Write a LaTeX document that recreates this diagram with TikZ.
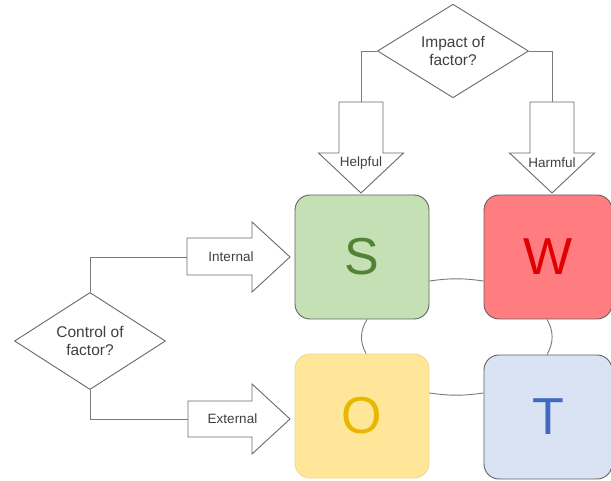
\documentclass[tikz,border=0pt]{standalone}
\usepackage{fontspec}
\setmainfont{Liberation Sans}
\usetikzlibrary{shapes.geometric}
\definecolor{lineg}{HTML}{7A7A7A}
\definecolor{arrowg}{HTML}{6A6A6A}
\definecolor{txtg}{HTML}{404040}
\definecolor{sfill}{HTML}{C5E0B4}
\definecolor{sfg}{HTML}{548235}
\definecolor{wfill}{HTML}{FF7C80}
\definecolor{wfg}{HTML}{E00000}
\definecolor{ofill}{HTML}{FFE699}
\definecolor{ofg}{HTML}{E8B800}
\definecolor{ostroke}{HTML}{F0D88C}
\definecolor{tfill}{HTML}{DAE3F3}
\definecolor{tfg}{HTML}{4069BF}
\definecolor{boxstroke}{HTML}{626262}
\begin{document}
\begin{tikzpicture}[x=1pt,y=1pt,
  conn/.style={draw=lineg,line width=0.9pt},
  decision/.style={diamond,draw=arrowg,line width=0.9pt,fill=white,inner sep=0pt,
    align=center,text=txtg,font=\fontsize{15.5}{18.5}\selectfont},
  fatarrow/.style={draw=arrowg,line width=0.9pt,fill=white},
  arrowlabel/.style={text=txtg,font=\fontsize{13.5}{16}\selectfont,inner sep=0pt},
  swotbox/.style={rectangle,rounded corners=15pt,line width=0.9pt,inner sep=0pt,
    font=\fontsize{52}{52}\selectfont},
  link/.style={draw=lineg,line width=0.9pt}]
\clip (0,0) rectangle (611,480);
\fill[white] (0,0) rectangle (611,480);

% SWOT boxes
\node[swotbox,draw=boxstroke,fill=sfill,text=sfg,minimum width=134pt,minimum height=124pt] (S) at (362,223) {S};
\node[swotbox,draw=boxstroke,fill=wfill,text=wfg,minimum width=128pt,minimum height=124pt] (W) at (548,223) {W};
\node[swotbox,draw=ostroke,fill=ofill,text=ofg,minimum width=134pt,minimum height=124pt] (O) at (362,64) {O};
\node[swotbox,draw=boxstroke,fill=tfill,text=tfg,minimum width=128pt,minimum height=124pt] (T) at (548,63) {T};

% links between boxes
\draw[link] ([yshift=-24pt]S.east) to[bend left=8] ([yshift=-24pt]W.west);
\draw[link] ([xshift=5pt]S.south) to[bend right=30] ([xshift=4pt]O.north);
\draw[link] ([xshift=-1pt]W.south) to[bend left=30] ([xshift=-1pt]T.north);
\draw[link] ([yshift=23pt]O.east) to[bend right=8] ([yshift=24pt]T.west);

% decisions
\node[decision,minimum width=151pt,minimum height=86pt] (imp) at (453,429) {Impact of\\factor?};
\node[decision,minimum width=151pt,minimum height=85pt] (ctl) at (90,139) {Control of\\factor?};

% fat arrows
\coordinate (hin) at (361,378);
\coordinate (hain) at (552,378);
\coordinate (inin) at (187,223);
\coordinate (exin) at (188,61);

\draw[fatarrow] (339,378) -- (383,378) -- (383,327) -- (403.5,327) -- (361,287) -- (318.5,327) -- (339,327) -- cycle;
\draw[fatarrow] (530,378) -- (574,378) -- (574,327) -- (594.5,327) -- (552,287) -- (509.5,327) -- (530,327) -- cycle;
\draw[fatarrow] (187,242) -- (252,242) -- (252,258) -- (290,223) -- (252,188) -- (252,205) -- (187,205) -- cycle;
\draw[fatarrow] (188,79) -- (252,79) -- (252,96) -- (290,61) -- (252,26) -- (252,43) -- (188,43) -- cycle;

\node[arrowlabel] (lhelp) at (361,317) {Helpful};
\node[arrowlabel] (lharm) at (552,317) {Harmful};
\node[arrowlabel] (lint) at (231,223) {Internal};
\node[arrowlabel] (lext) at (232.5,61) {External};

% connectors
\draw[conn] (imp.west) -| (hin);
\draw[conn] (imp.east) -| (hain);
\draw[conn] (ctl.north) |- (inin);
\draw[conn] (ctl.south) |- (exin);
\end{tikzpicture}
\end{document}
